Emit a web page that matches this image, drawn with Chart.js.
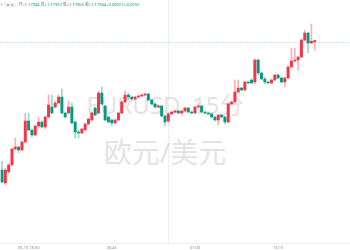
<!DOCTYPE html>
<html>
<head>
<meta charset="utf-8">
<script src="https://cdn.jsdelivr.net/npm/chart.js@4.4.1/dist/chart.umd.min.js"></script>
<style>
  html, body { margin: 0; padding: 0; background: #fff; }
  #wrap { position: relative; width: 350px; height: 250px; overflow: hidden; }
  #chart { position: absolute; left: 0; top: 0; }
  .wm { position: absolute; left: 0; width: 330px; text-align: center; color: #e3e3e3;
        font-family: "Noto Sans", "Noto Sans CJK SC", sans-serif; font-size: 28px; line-height: 1; white-space: nowrap; }
  #legend { position: absolute; left: 1px; top: 2px; font-family: "Noto Sans", "Noto Sans CJK SC", sans-serif;
            font-size: 4px; line-height: 5px; color: #6a6d78; white-space: nowrap; }
  #legend .v { color: #089981; }
  #legend .btn { display: inline-block; width: 11px; height: 4px; background: #e9f2ef; border-radius: 1px;
                 vertical-align: middle; margin: 0 3px 0 2px; position: relative; }
  #legend .btn i { position: absolute; top: 1px; width: 2px; height: 2px; }
</style>
</head>
<body>
<div id="wrap">
  <div class="wm" style="top:93px;font-size:24px">EURUSD, 15分</div>
  <div class="wm" style="top:138px">欧元/美元</div>
  <canvas id="chart" width="350" height="250"></canvas>
  <div id="legend">•<span class="btn"><i style="left:2px;background:#7cc7b6"></i><i style="left:6px;background:#f7a9ae"></i></span>开=<span class="v">1.17944</span> 高=<span class="v">1.17952</span> 低=<span class="v">1.17903</span> 收=<span class="v">1.17944</span> <span class="v">-0.00001 (-0.00%)</span></div>
</div>
<script>
  // EURUSD 15 min candles
  const openP = [1.17302, 1.17237, 1.17292, 1.17327, 1.17407, 1.17417, 1.17402, 1.17442, 1.17547, 1.17502,
                 1.17477, 1.17522, 1.17542, 1.17517, 1.17567, 1.17617, 1.17617, 1.17637, 1.17667, 1.17587,
                 1.17587, 1.17617, 1.17542, 1.17492, 1.17487, 1.17502, 1.17532, 1.17552, 1.17612, 1.17587,
                 1.17687, 1.17622, 1.17567, 1.17552, 1.17537, 1.17552, 1.17587, 1.17642, 1.17677, 1.17667,
                 1.17657, 1.17667, 1.17672, 1.17677, 1.17682, 1.17652, 1.17632, 1.17617, 1.17622, 1.17572,
                 1.17547, 1.17582, 1.17592, 1.17597, 1.17587, 1.17597, 1.17612, 1.17592, 1.17587, 1.17617,
                 1.17622, 1.17592, 1.17587, 1.17582, 1.17567, 1.17552, 1.17577, 1.17567, 1.17542, 1.17632,
                 1.17642, 1.17692, 1.17712, 1.17702, 1.17742, 1.17752, 1.17742, 1.17852, 1.17787, 1.17757,
                 1.17742, 1.17737, 1.17752, 1.17777, 1.17762, 1.17742, 1.17762, 1.17817, 1.17847, 1.17852,
                 1.17867, 1.17952, 1.17987, 1.17937, 1.17944];
  const highP = [1.17347, 1.17312, 1.17337, 1.17412, 1.17462, 1.17422, 1.17447, 1.17587, 1.17587, 1.17507,
                 1.17527, 1.17567, 1.17547, 1.17572, 1.17677, 1.17677, 1.17647, 1.17677, 1.17707, 1.17592,
                 1.17647, 1.17637, 1.17547, 1.17502, 1.17512, 1.17537, 1.17562, 1.17592, 1.17617, 1.17697,
                 1.17717, 1.17627, 1.17572, 1.17557, 1.17557, 1.17592, 1.17647, 1.17697, 1.17687, 1.17672,
                 1.17672, 1.17677, 1.17682, 1.17687, 1.17687, 1.17657, 1.17637, 1.17627, 1.17627, 1.17577,
                 1.17587, 1.17597, 1.17602, 1.17602, 1.17602, 1.17617, 1.17617, 1.17597, 1.17622, 1.17632,
                 1.17627, 1.17597, 1.17592, 1.17587, 1.17572, 1.17582, 1.17582, 1.17572, 1.17637, 1.17647,
                 1.17752, 1.17752, 1.17717, 1.17747, 1.17747, 1.17757, 1.17857, 1.17857, 1.17792, 1.17767,
                 1.17747, 1.17757, 1.17782, 1.17782, 1.17767, 1.17767, 1.17822, 1.17912, 1.17912, 1.17872,
                 1.17957, 1.18002, 1.17992, 1.18032, 1.17952];
  const lowP = [1.17237, 1.17227, 1.17287, 1.17322, 1.17402, 1.17387, 1.17397, 1.17437, 1.17497, 1.17467,
                1.17472, 1.17512, 1.17512, 1.17507, 1.17562, 1.17582, 1.17612, 1.17632, 1.17582, 1.17562,
                1.17582, 1.17532, 1.17462, 1.17462, 1.17482, 1.17497, 1.17527, 1.17547, 1.17572, 1.17582,
                1.17627, 1.17547, 1.17537, 1.17522, 1.17532, 1.17547, 1.17582, 1.17637, 1.17657, 1.17647,
                1.17652, 1.17662, 1.17667, 1.17672, 1.17647, 1.17627, 1.17612, 1.17612, 1.17567, 1.17522,
                1.17537, 1.17577, 1.17587, 1.17582, 1.17582, 1.17592, 1.17587, 1.17582, 1.17582, 1.17612,
                1.17587, 1.17582, 1.17577, 1.17562, 1.17547, 1.17527, 1.17562, 1.17532, 1.17537, 1.17627,
                1.17637, 1.17687, 1.17697, 1.17697, 1.17732, 1.17732, 1.17732, 1.17777, 1.17752, 1.17732,
                1.17732, 1.17732, 1.17747, 1.17757, 1.17737, 1.17717, 1.17757, 1.17812, 1.17842, 1.17802,
                1.17862, 1.17947, 1.17887, 1.17932, 1.17903];
  const closeP = [1.17242, 1.17302, 1.17327, 1.17407, 1.17417, 1.17402, 1.17442, 1.17547, 1.17502, 1.17477,
                  1.17522, 1.17542, 1.17517, 1.17567, 1.17627, 1.17587, 1.17637, 1.17667, 1.17587, 1.17567,
                  1.17617, 1.17537, 1.17492, 1.17487, 1.17507, 1.17532, 1.17557, 1.17587, 1.17577, 1.17687,
                  1.17632, 1.17552, 1.17542, 1.17537, 1.17552, 1.17587, 1.17642, 1.17677, 1.17667, 1.17657,
                  1.17667, 1.17672, 1.17677, 1.17682, 1.17652, 1.17632, 1.17617, 1.17622, 1.17572, 1.17542,
                  1.17582, 1.17592, 1.17597, 1.17587, 1.17597, 1.17612, 1.17592, 1.17587, 1.17617, 1.17622,
                  1.17592, 1.17587, 1.17582, 1.17567, 1.17552, 1.17577, 1.17567, 1.17542, 1.17632, 1.17642,
                  1.17692, 1.17712, 1.17702, 1.17742, 1.17737, 1.17737, 1.17852, 1.17787, 1.17757, 1.17742,
                  1.17737, 1.17752, 1.17777, 1.17762, 1.17742, 1.17762, 1.17817, 1.17847, 1.17852, 1.17867,
                  1.17952, 1.17987, 1.17937, 1.17945, 1.17944];

  const lastPrice = 1.17944;
  const tickAt = ['09-15 18:30', '09-16 00:45', '09-16 07:00', '09-16 13:15'];
  const tickText = ['09-15 18:30', '00:45', '07:00', '13:15'];
  const sessionBreak = '09-16 05:00';

  // 15 minute slots from 09-15 16:30, plus empty room on the right
  const categories = [];
  for (let i = 0; i < 105; i++) {
    const m = 16 * 60 + 30 + 15 * i;
    const d = 15 + Math.floor(m / 1440), mm = m % 1440;
    categories.push('09-' + d + ' ' + String(Math.floor(mm / 60)).padStart(2, '0') + ':' + String(mm % 60).padStart(2, '0'));
  }

  const UP = '#f23645', DOWN = '#089981';
  const isUp = closeP.map((c, i) => c >= openP[i]);

  // dotted price line and session separator
  const guideLines = {
    id: 'guideLines',
    beforeDatasetsDraw(chart) {
      const ctx = chart.ctx, a = chart.chartArea;
      const x = chart.scales.x.getPixelForValue(categories.indexOf(sessionBreak));
      const y = chart.scales.y.getPixelForValue(lastPrice);
      ctx.save();
      ctx.lineWidth = 1;
      ctx.setLineDash([1, 1]);
      ctx.strokeStyle = 'rgba(178,181,190,0.45)';
      ctx.beginPath();
      ctx.moveTo(Math.round(x) + 0.5, 0);
      ctx.lineTo(Math.round(x) + 0.5, a.bottom);
      ctx.stroke();
      ctx.setLineDash([2, 1]);
      ctx.strokeStyle = 'rgba(8,153,129,0.22)';
      ctx.beginPath();
      ctx.moveTo(0, Math.round(y) + 0.5);
      ctx.lineTo(a.right, Math.round(y) + 0.5);
      ctx.stroke();
      ctx.restore();
    }
  };

  new Chart(document.getElementById('chart'), {
    type: 'bar',
    data: {
      labels: categories,
      datasets: [{
        label: 'body',
        data: openP.map((o, i) => [o, closeP[i]]),
        backgroundColor: isUp.map(u => u ? UP : DOWN),
        barThickness: 2.3,
        minBarLength: 1,
        grouped: false,
        order: 0
      }, {
        label: 'wick',
        data: lowP.map((l, i) => [l, highP[i]]),
        backgroundColor: isUp.map(u => u ? 'rgba(242,54,69,0.4)' : 'rgba(8,153,129,0.4)'),
        barThickness: 1,
        grouped: false,
        order: 1
      }]
    },
    options: {
      responsive: false,
      animation: false,
      layout: { padding: 0 },
      plugins: { legend: { display: false }, tooltip: { enabled: false } },
      scales: {
        x: {
          offset: true,
          grid: { display: false, drawTicks: false },
          border: { display: true, color: '#eceef2' },
          afterFit(scale) { scale.height = 7; },
          ticks: {
            autoSkip: false,
            maxRotation: 0,
            padding: 2,
            color: '#8a8d96',
            font: { family: 'Noto Sans', size: 4 },
            callback(v) {
              const k = tickAt.indexOf(categories[v]);
              return k < 0 ? '' : tickText[k];
            }
          }
        },
        y: { display: false, min: 1.16937, max: 1.18152 }
      }
    },
    plugins: [guideLines]
  });
</script>
</body>
</html>
